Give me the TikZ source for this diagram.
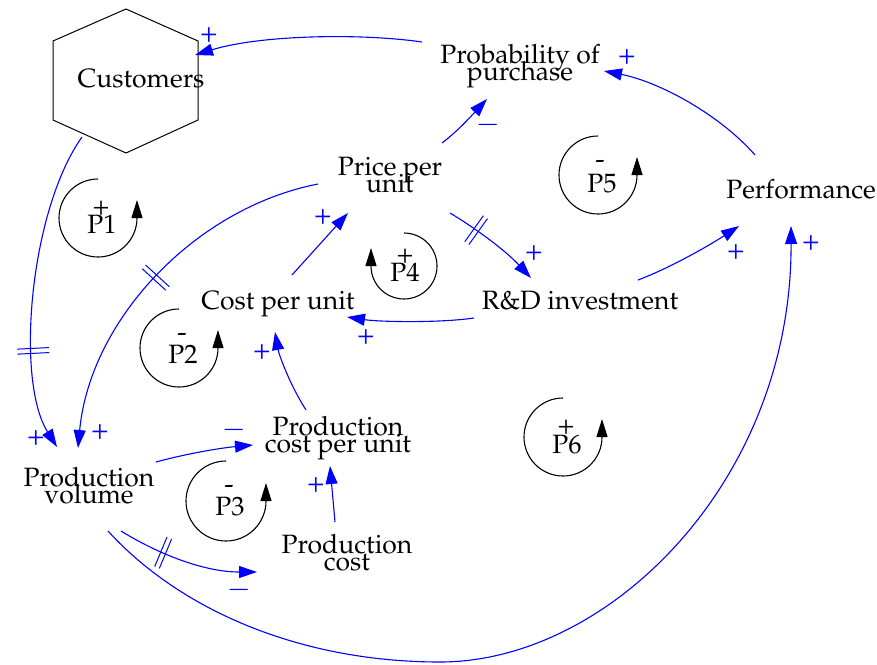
\documentclass[tikz,border=0pt]{standalone}
\usepackage[T1]{fontenc}
\usepackage{mathpazo}
\usetikzlibrary{arrows.meta,decorations.markings}
\setlength{\lineskiplimit}{-100pt}
\tikzset{
  lbl/.style={font=\fontsize{26.5}{17}\selectfont, inner sep=0pt, align=center},
  sgn/.style={text=blue, font=\fontsize{29}{29}\selectfont, inner sep=0pt},
  lsgn/.style={font=\fontsize{28}{28}\selectfont, inner sep=0pt},
  lp/.style={font=\fontsize{26.5}{26.5}\selectfont, inner sep=0pt, anchor=base},
  link/.style={blue, line width=1.1pt, -{Triangle[length=18pt,width=12pt]}},
  looparc/.style={black, line width=1.1pt, -{Triangle[length=18pt,width=11pt]}},
  dmark/.style={postaction={decorate}, decoration={markings, mark=at position #1 with {\draw[blue,line width=1pt,-] (-2.5pt,-16pt) -- (-2.5pt,16pt) (2.5pt,-16pt) -- (2.5pt,16pt);}}},
}
\begin{document}
\begin{tikzpicture}[x=1pt,y=-1pt]
\useasboundingbox (0,0) rectangle (877,664);
% nodes
\coordinate (cust) at (126,81);
\draw[line width=1pt] ([shift={(0,-72)}]cust) -- ([shift={(72,-40)}]cust) -- ([shift={(72,39)}]cust) -- ([shift={(0,72)}]cust) -- ([shift={(-73,39)}]cust) -- ([shift={(-73,-40)}]cust) -- cycle;
\node[lbl] (custtxt) at (141,79) {Customers};
\node[lbl] (prob) at (520,66) {Probability of\\purchase};
\node[lbl] (price) at (390,175) {Price per\\unit};
\node[lbl] (perf) at (801,189) {Performance};
\node[lbl] (rd) at (580,301) {R\&D investment};
\node[lbl] (cpu) at (278,304) {Cost per unit};
\node[lbl] (pcpu) at (338,438) {Production\\cost per unit};
\node[lbl] (pvol) at (89,486) {Production\\volume};
\node[lbl] (pcost) at (347,553) {Production\\cost};
% links
\draw[link] ([shift={(-98,-24)}]prob.center) .. controls (360,33) and (260,35) .. ([shift={(69,-26)}]cust);
\draw[link,dmark=0.69] ([shift={(-44,56)}]cust) .. controls (30,210) and (15,380) .. ([shift={(-32,-39)}]pvol.center);
\draw[link,dmark=0.5] ([shift={(-72,9)}]price.center) .. controls (195,208) and (90,320) .. ([shift={(-11,-38)}]pvol.center);
\draw[link] ([shift={(52,-32)}]price.center) .. controls (458,131) and (474,113) .. ([shift={(-33,33)}]prob.center);
\draw[link,dmark=0.3] ([shift={(60,38)}]price.center) .. controls (475,228) and (505,250) .. ([shift={(-49,-23)}]rd.center);
\draw[link] ([shift={(-106,17)}]rd.center) .. controls (440,323) and (380,322) .. ([shift={(69,13)}]cpu.center);
\draw[link] ([shift={(14,-29)}]cpu.center) -- ([shift={(-42,38)}]price.center);
\draw[link] ([shift={(58,-21)}]rd.center) .. controls (670,268) and (710,245) .. ([shift={(-62,37)}]perf.center);
\draw[link] ([shift={(-46,-34)}]perf.center) .. controls (720,115) and (660,82) .. ([shift={(84,5)}]prob.center);
\draw[link] ([shift={(-32,-28)}]pcpu.center) .. controls (290,385) and (279,355) .. ([shift={(-3,28)}]cpu.center);
\draw[link] ([shift={(67,-24)}]pvol.center) .. controls (185,454) and (220,448) .. ([shift={(-85,7)}]pcpu.center);
\draw[link] ([shift={(-12,-31)}]pcost.center) -- ([shift={(-8,28)}]pcpu.center);
\draw[link,dmark=0.33] ([shift={(32,45)}]pvol.center) .. controls (160,555) and (205,572) .. ([shift={(-90,19)}]pcost.center);
\draw[link] ([shift={(19,45)}]pvol.center) .. controls (180,610) and (300,662) .. (440,662) .. controls (610,662) and (792,480) .. ([shift={(-10,37)}]perf.center);
% link signs
\node[sgn] (s1) at (209,35) {+};
\node[sgn] (s2) at (36,438) {+};
\node[sgn] (s3) at (100,432) {+};
\node[sgn] (s4) at (488,125) {$-$};
\node[sgn] (s5) at (534,253) {+};
\node[sgn] (s6) at (366,337) {+};
\node[sgn] (s7) at (323,217) {+};
\node[sgn] (s8) at (736,252) {+};
\node[sgn] (s9) at (627,57) {+};
\node[sgn] (s10) at (262,352) {+};
\node[sgn] (s11) at (234,430) {$-$};
\node[sgn] (s12) at (316,485) {+};
\node[sgn] (s13) at (239,590) {$-$};
\node[sgn] (s14) at (811,243) {+};
% loops
\draw[looparc] (98,179) arc[start angle=90,end angle=360,radius=39pt] -- ++(0pt,18pt);
\node[lsgn] (ls1) at (101,208) {+};
\node[lp] (l1) at (102,233) {P1};
\draw[looparc] (179,309) arc[start angle=90,end angle=360,radius=39pt] -- ++(0pt,18pt);
\node[lsgn] (ls2) at (182,338) {-};
\node[lp] (l2) at (183,363) {P2};
\draw[looparc] (226,461) arc[start angle=90,end angle=360,radius=40pt] -- ++(0pt,18pt);
\node[lsgn] (ls3) at (229,490) {-};
\node[lp] (l3) at (230,515) {P3};
\draw[looparc] (404,233) arc[start angle=90,end angle=-180,radius=33pt] -- ++(0pt,18pt);
\node[lsgn] (ls4) at (405,256) {+};
\node[lp] (l4) at (405,281) {P4};
\draw[looparc] (598,136) arc[start angle=90,end angle=360,radius=39pt] -- ++(0pt,18pt);
\node[lsgn] (ls5) at (600,165) {-};
\node[lp] (l5) at (602,192) {P5};
\draw[looparc] (563,398) arc[start angle=90,end angle=360,radius=39pt] -- ++(0pt,18pt);
\node[lsgn] (ls6) at (566,427) {+};
\node[lp] (l6) at (567,453) {P6};
\end{tikzpicture}
\end{document}
